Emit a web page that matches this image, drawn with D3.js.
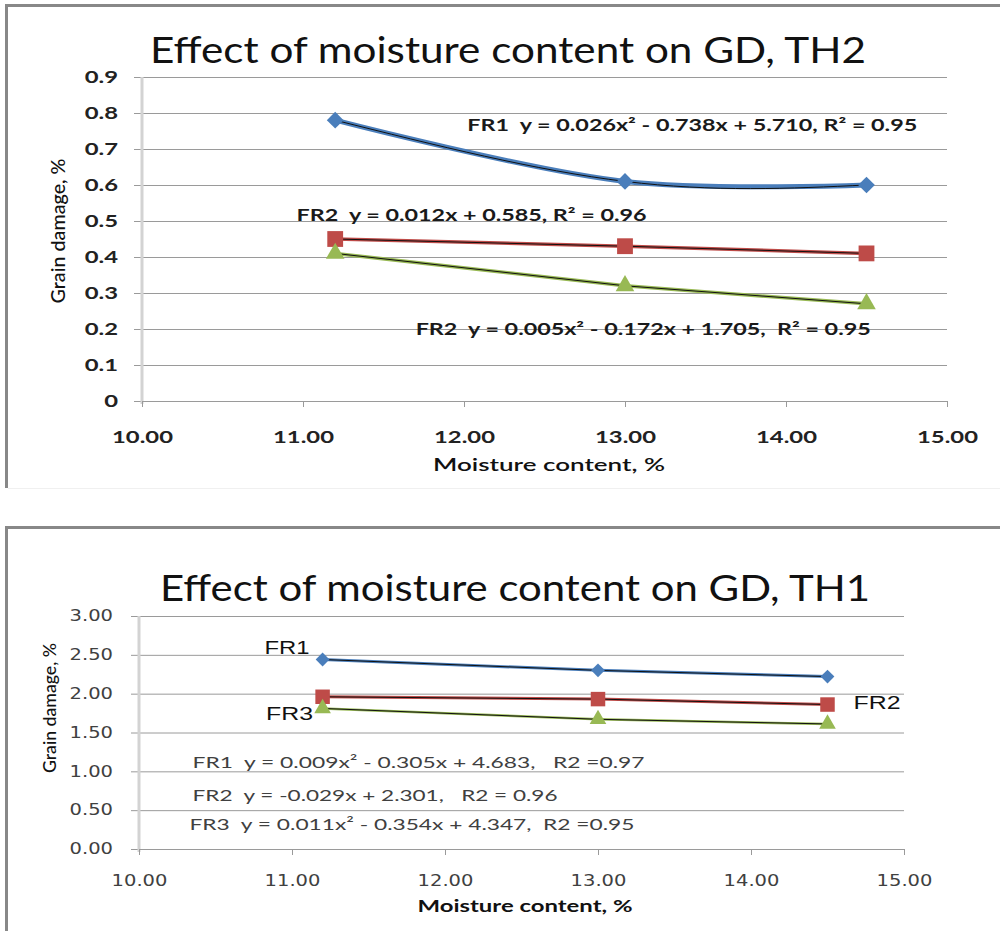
<!DOCTYPE html>
<html>
  <head>
    <meta charset="UTF-8">
    <title>Effect of moisture content on GD</title>
    <style>
      body { margin: 0; background: #fff; }
      svg { display: block; }
      text { white-space: pre; }
    </style>
  </head>
  <body>
    <div id='chart'></div>
    <script src='https://d3js.org/d3.v7.min.js'></script>
    <script>
      // values
      const moisture = [11.2, 13.0, 14.5];
      const xTicks = [10, 11, 12, 13, 14, 15];

      const th2FR1 = [0.78, 0.61, 0.60];
      const th2FR2 = [0.45, 0.43, 0.41];
      const th2FR3 = [0.41, 0.32, 0.27];
      const th2YTicks = [0, 0.1, 0.2, 0.3, 0.4, 0.5, 0.6, 0.7, 0.8, 0.9];
      const th2Equations = [
        'FR1  y = 0.026x\u00b2 - 0.738x + 5.710, R\u00b2 = 0.95',
        'FR2  y = 0.012x + 0.585, R\u00b2 = 0.96',
        'FR2  y = 0.005x\u00b2 - 0.172x + 1.705,  R\u00b2 = 0.95'
      ];

      const th1FR1 = [2.44, 2.30, 2.22];
      const th1FR2 = [1.96, 1.93, 1.86];
      const th1FR3 = [1.81, 1.67, 1.61];
      const th1YTicks = [0, 0.5, 1, 1.5, 2, 2.5, 3];
      const th1Labels = ['FR1', 'FR2', 'FR3'];
      const th1Equations = [
        'FR1  y = 0.009x\u00b2 - 0.305x + 4.683,   R2 =0.97',
        'FR2  y = -0.029x + 2.301,   R2 = 0.96',
        'FR3  y = 0.011x\u00b2 - 0.354x + 4.347,  R2 =0.95'
      ];

      const blue = '#4a7ebb';
      const red = '#be4b48';
      const green = '#98b954';
      const narrow = 'Lato, "Open Sans", sans-serif';

      const svg = d3.select('#chart')
        .append('svg')
        .attr('width', 1000)
        .attr('height', 931);

      // widen text horizontally like the reference does
      const stretch = (sel, k) => sel.each(function () {
        const w = this.getComputedTextLength();
        d3.select(this).attr('textLength', w * k).attr('lengthAdjust', 'spacingAndGlyphs');
      });
      const fit = (sel, w) => sel.attr('textLength', w).attr('lengthAdjust', 'spacingAndGlyphs');

      // chart frames
      const frame = svg.append('g').attr('fill', 'none').attr('stroke', '#888');
      frame.append('path').attr('d', 'M6.5,488V5.5H1000').attr('stroke-width', 3);
      frame.append('path').attr('d', 'M8,488.5H1000').attr('stroke', '#f0f0f0').attr('stroke-width', 1);
      frame.append('path').attr('d', 'M6.5,931V527.5H1000').attr('stroke-width', 3);

      const drawPanel = (p) => {
        const x = d3.scaleLinear().domain([10, 15]).range([p.left, p.right]);
        const y = d3.scaleLinear().domain([0, d3.max(p.yTicks)]).range([p.bottom, p.top]);
        const g = svg.append('g');

        // title
        g.append('text')
          .attr('x', p.titleX)
          .attr('y', p.titleY)
          .attr('text-anchor', 'middle')
          .attr('font-family', narrow)
          .attr('font-size', 37)
          .attr('fill', '#111')
          .text(p.title)
          .call(fit, p.titleW);

        // gridlines + y labels
        const yAxis = g.append('g')
          .attr('transform', `translate(${p.left - 8},0)`)
          .call(d3.axisLeft(y)
            .tickValues(p.yTicks)
            .tickSize(-(p.right - p.left + 8))
            .tickPadding(p.yPad)
            .tickFormat(p.yFormat));
        yAxis.select('.domain').remove();
        yAxis.selectAll('line').attr('stroke', '#9a9a9a');
        yAxis.selectAll('text')
          .attr('font-family', p.tickFont)
          .attr('font-weight', p.tickWeight)
          .attr('font-size', p.tickSize)
          .attr('fill', p.tickColor)
          .call(stretch, p.tickStretch);

        // light vertical axis
        g.append('line')
          .attr('x1', x(10)).attr('x2', x(10))
          .attr('y1', y(d3.max(p.yTicks))).attr('y2', p.bottom + 3)
          .attr('stroke', '#d3d3d3')
          .attr('stroke-width', 3);

        const xAxis = g.append('g')
          .attr('transform', `translate(0,${p.bottom})`)
          .call(d3.axisBottom(x)
            .tickValues(xTicks)
            .tickSize(6)
            .tickSizeOuter(0)
            .tickPadding(p.xPad)
            .tickFormat(d3.format('.2f')));
        xAxis.select('.domain').attr('stroke', '#9a9a9a');
        xAxis.selectAll('line').attr('stroke', '#9a9a9a');
        xAxis.selectAll('text')
          .attr('font-family', p.tickFont)
          .attr('font-weight', p.tickWeight)
          .attr('font-size', p.tickSize)
          .attr('fill', p.tickColor)
          .call(stretch, p.tickStretch);

        // axis titles
        g.append('text')
          .attr('x', p.xTitleX)
          .attr('y', p.xTitleY)
          .attr('text-anchor', 'middle')
          .attr('font-family', narrow)
          .attr('font-weight', p.xTitleWeight)
          .attr('font-size', 17)
          .attr('fill', '#111')
          .text('Moisture content, %')
          .call(fit, p.xTitleW);

        g.append('text')
          .attr('transform', `translate(${p.yTitleX},${p.yTitleY}) rotate(-90)`)
          .attr('text-anchor', 'middle')
          .attr('font-family', narrow)
          .attr('font-weight', 500)
          .attr('font-size', p.yTitleSize)
          .attr('fill', '#111')
          .text('Grain damage, %')
          .call(fit, p.yTitleW);

        // series
        p.series.forEach((s) => {
          const pts = moisture.map((m, i) => [m, s.values[i]]);
          const line = d3.line().x((d) => x(d[0])).y((d) => y(d[1]));
          g.append('path')
            .datum(pts)
            .attr('fill', 'none')
            .attr('stroke', s.color)
            .attr('stroke-width', s.width)
            .attr('stroke-linejoin', 'round')
            .attr('d', line.curve(s.curve)(pts));
          g.append('path')
            .datum(pts)
            .attr('fill', 'none')
            .attr('stroke', '#111')
            .attr('stroke-width', 1)
            .attr('d', line.curve(s.trend)(pts));
          g.selectAll(null)
            .data(pts)
            .enter().append('path')
            .attr('transform', (d) => `translate(${x(d[0])},${y(d[1])}) rotate(${s.rotate})`)
            .attr('d', d3.symbol().type(s.symbol).size(s.size))
            .attr('fill', s.color);
        });

        // annotations
        p.notes.forEach((n) => {
          g.append('text')
            .attr('x', x(n.at[0]))
            .attr('y', y(n.at[1]))
            .attr('font-family', n.font)
            .attr('font-weight', n.weight)
            .attr('font-size', n.size)
            .attr('fill', n.color)
            .text(n.text)
            .call(fit, n.w);
        });
      };

      drawPanel({
        title: 'Effect of moisture content on GD, TH2',
        titleX: 508, titleY: 63, titleW: 716,
        left: 142, right: 947, top: 77, bottom: 401,
        yTicks: th2YTicks,
        yFormat: (d) => d === 0 ? '0' : d3.format('.1f')(d),
        yPad: 16, xPad: 24,
        tickFont: narrow, tickWeight: 700, tickSize: 17, tickColor: '#222', tickStretch: 1.4,
        xTitleX: 549, xTitleY: 471, xTitleW: 232, xTitleWeight: 600,
        yTitleX: 65, yTitleY: 231, yTitleW: 145, yTitleSize: 19,
        series: [
          { values: th2FR1, color: blue, width: 5, curve: d3.curveCatmullRom, trend: d3.curveNatural, symbol: d3.symbolSquare, size: 140, rotate: 45 },
          { values: th2FR2, color: red, width: 3.5, curve: d3.curveLinear, trend: d3.curveLinear, symbol: d3.symbolSquare, size: 250, rotate: 0 },
          { values: th2FR3, color: green, width: 3.5, curve: d3.curveLinear, trend: d3.curveLinear, symbol: d3.symbolTriangle, size: 150, rotate: 0 }
        ],
        notes: [
          { text: th2Equations[0], at: [12.02, 0.75], w: 450, font: narrow, weight: 700, size: 17, color: '#1a1a1a' },
          { text: th2Equations[1], at: [10.96, 0.50], w: 350, font: narrow, weight: 700, size: 17, color: '#1a1a1a' },
          { text: th2Equations[2], at: [11.70, 0.183], w: 455, font: narrow, weight: 700, size: 17, color: '#1a1a1a' }
        ]
      });

      drawPanel({
        title: 'Effect of moisture content on GD, TH1',
        titleX: 515, titleY: 601, titleW: 710,
        left: 139, right: 904, top: 616, bottom: 849,
        yTicks: th1YTicks,
        yFormat: d3.format('.2f'),
        yPad: 18, xPad: 20,
        tickFont: '"DejaVu Sans", sans-serif', tickWeight: 400, tickSize: 15, tickColor: '#404040', tickStretch: 1.3,
        xTitleX: 525, xTitleY: 912, xTitleW: 215, xTitleWeight: 700,
        yTitleX: 56, yTitleY: 708, yTitleW: 130, yTitleSize: 18,
        series: [
          { values: th1FR1, color: blue, width: 3, curve: d3.curveLinear, trend: d3.curveLinear, symbol: d3.symbolSquare, size: 95, rotate: 45 },
          { values: th1FR2, color: red, width: 3, curve: d3.curveLinear, trend: d3.curveLinear, symbol: d3.symbolSquare, size: 210, rotate: 0 },
          { values: th1FR3, color: green, width: 2.5, curve: d3.curveLinear, trend: d3.curveLinear, symbol: d3.symbolTriangle, size: 120, rotate: 0 }
        ],
        notes: [
          { text: th1Labels[0], at: [10.82, 2.51], w: 45, font: '"Liberation Sans", Arial, sans-serif', weight: 400, size: 18, color: '#111' },
          { text: th1Labels[1], at: [14.67, 1.80], w: 47, font: '"Liberation Sans", Arial, sans-serif', weight: 400, size: 18, color: '#111' },
          { text: th1Labels[2], at: [10.83, 1.66], w: 47, font: '"Liberation Sans", Arial, sans-serif', weight: 400, size: 18, color: '#111' },
          { text: th1Equations[0], at: [10.35, 1.04], w: 452, font: narrow, weight: 400, size: 16, color: '#404040' },
          { text: th1Equations[1], at: [10.35, 0.62], w: 365, font: narrow, weight: 400, size: 16, color: '#404040' },
          { text: th1Equations[2], at: [10.33, 0.245], w: 445, font: narrow, weight: 400, size: 16, color: '#404040' }
        ]
      });
    </script>
  </body>
</html>
